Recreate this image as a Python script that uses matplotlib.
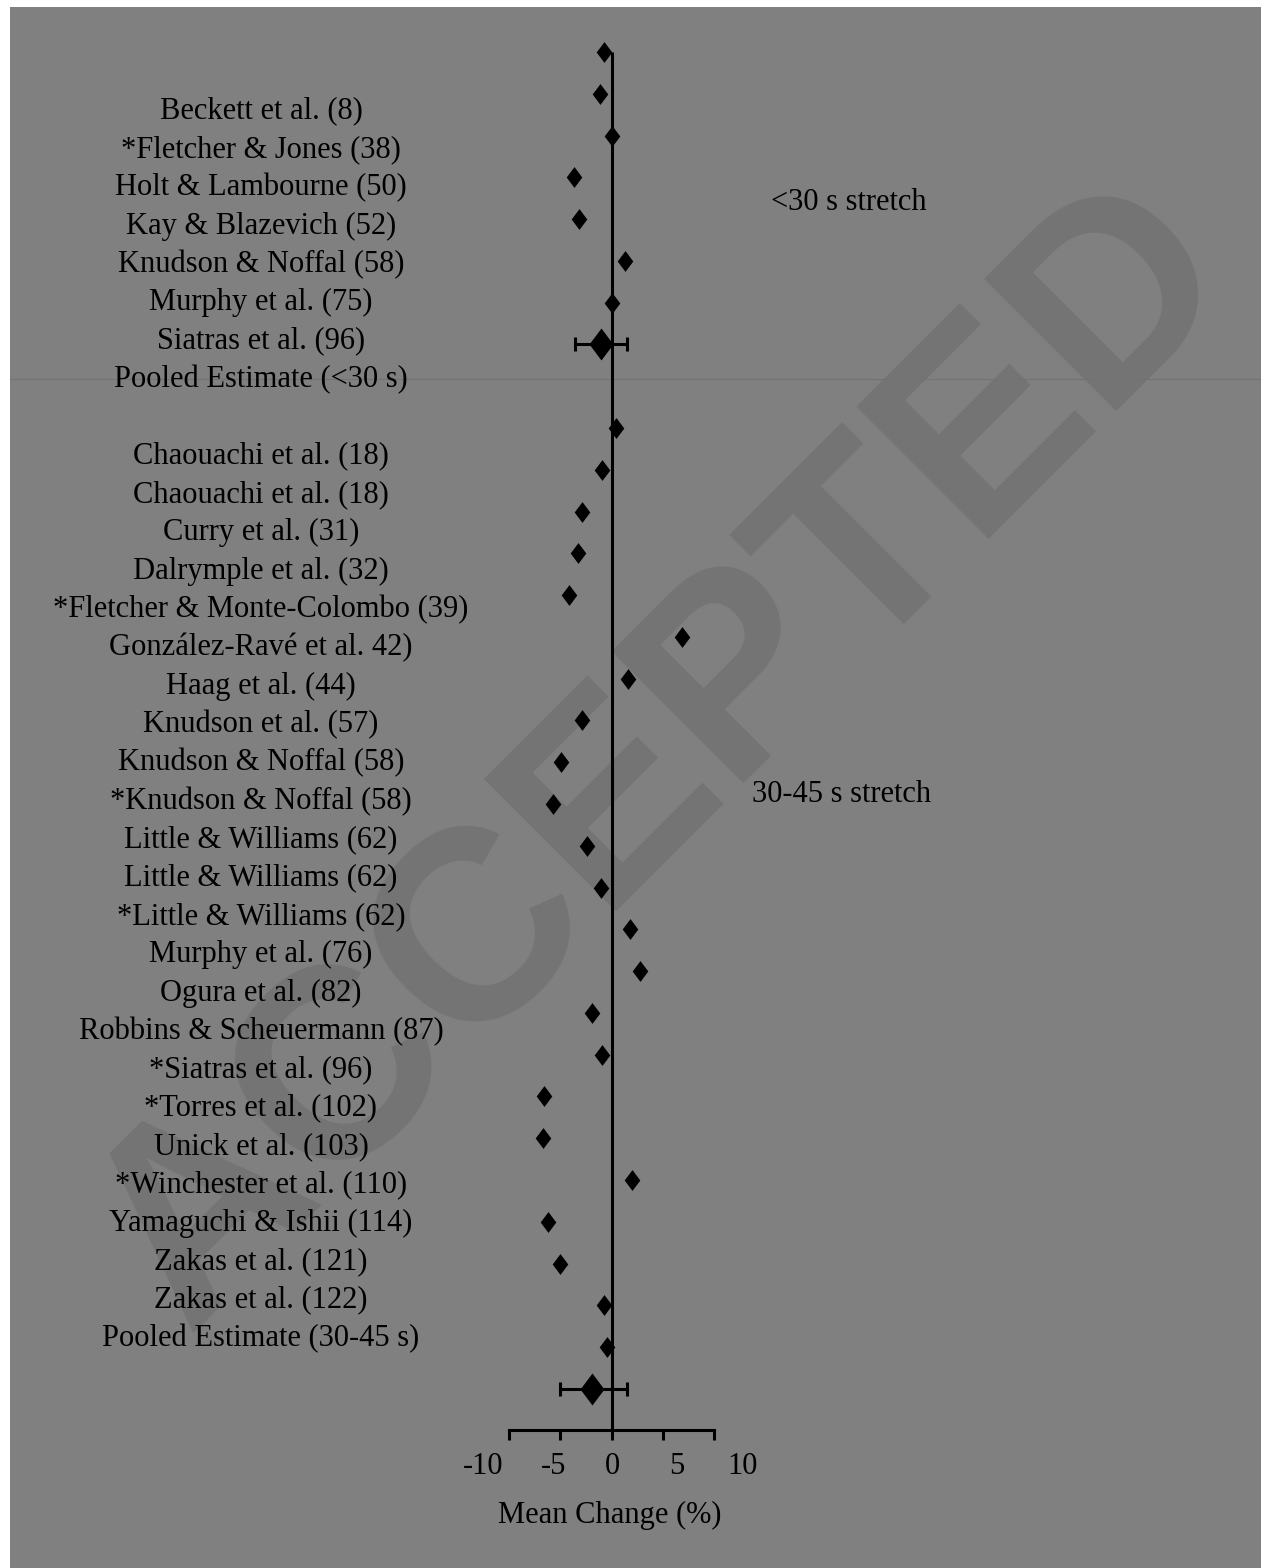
import matplotlib
matplotlib.use("Agg")
import matplotlib.pyplot as plt
import matplotlib.transforms as mtransforms
from matplotlib.patches import Rectangle
from matplotlib.lines import Line2D

# ---------------- data ----------------
labels_lt30 = ["Beckett et al. (8)", "*Fletcher & Jones (38)", "Holt & Lambourne (50)",
               "Kay & Blazevich (52)", "Knudson & Noffal (58)", "Murphy et al. (75)",
               "Siatras et al. (96)"]
values_lt30 = [-0.75, -1.14, 0.06, -3.65, -3.22, 1.30, 0.06]
pooled_lt30_label = "Pooled Estimate (<30 s)"
pooled_lt30 = -1.04
pooled_lt30_ci = [-3.58, 1.52]

labels_30_45 = ["Chaouachi et al. (18)", "Chaouachi et al. (18)", "Curry et al. (31)",
                "Dalrymple et al. (32)", "*Fletcher & Monte-Colombo (39)",
                "González-Ravé et al. 42)", "Haag et al. (44)", "Knudson et al. (57)",
                "Knudson & Noffal (58)", "*Knudson & Noffal (58)", "Little & Williams (62)",
                "Little & Williams (62)", "*Little & Williams (62)", "Murphy et al. (76)",
                "Ogura et al. (82)", "Robbins & Scheuermann (87)", "*Siatras et al. (96)",
                "*Torres et al. (102)", "Unick et al. (103)", "*Winchester et al. (110)",
                "Yamaguchi & Ishii (114)", "Zakas et al. (121)", "Zakas et al. (122)"]
values_30_45 = [0.39, -0.97, -2.92, -3.25, -4.13, 6.88, 1.56, -2.92, -4.94, -5.75, -2.44,
                -1.04, 1.78, 2.76, -1.95, -0.97, -6.57, -6.67, 2.01, -6.24, -5.04, -0.75, -0.43]
pooled_30_45_label = "Pooled Estimate (30-45 s)"
pooled_30_45 = -1.89
pooled_30_45_ci = [-5.04, 1.52]

xticks = [-10, -5, 0, 5, 10]
xtick_labels = ["-10", "-5", "0", "5", "10"]
group_labels = ["<30 s stretch", "30-45 s stretch"]
xlabel = "Mean Change (%)"
watermark = "ACCEPTED"

# ---------------- layout ----------------
W, H, DPI = 1261, 1568, 100
fig = plt.figure(figsize=(W / DPI, H / DPI), dpi=DPI, facecolor="white")

def fx(px):
    return px / W

def fy(py):
    return 1 - py / H

BG = "#808080"
WM = "#747474"
serif = ["Liberation Serif", "DejaVu Serif"]
FS = 22

fig.patches.append(Rectangle((fx(10), 0), 1 - fx(10), fy(7), transform=fig.transFigure,
                             facecolor=BG, edgecolor="none", zorder=0))

# watermark
fig.text(fx(664), fy(757), watermark, rotation=45, rotation_mode="anchor",
         ha="center", va="center", fontsize=195, fontweight="bold",
         family=["Liberation Sans", "DejaVu Sans"], color=WM, zorder=0.5)

# faint horizontal line
fig.add_artist(Line2D([fx(10), 1], [fy(379), fy(379)], transform=fig.transFigure,
                      color="#737373", lw=0.8, zorder=0.6))

# row positions
n1 = len(labels_lt30)
rows_lt30 = list(range(n1))
row_pool1 = n1
start2 = n1 + 2
rows_30_45 = list(range(start2, start2 + len(labels_30_45)))
row_pool2 = start2 + len(labels_30_45)

# main axes (markers)
ROW0, STEP = 52.0, 41.78
ax_l, ax_r, ax_t, ax_b = 509.0, 714.3, 40.0, 1430.0
ax = fig.add_axes([fx(ax_l), fy(ax_b), fx(ax_r) - fx(ax_l), fy(ax_t) - fy(ax_b)], zorder=1)
ax.set_facecolor("none")
r_top = (ax_t - ROW0) / STEP
r_bot = (ax_b - ROW0) / STEP
ax.set_ylim(r_bot, r_top)
ax.set_xlim(-10, 10)

diamond = [(0, 1), (0.75, 0), (0, -1), (-0.75, 0), (0, 1)]

ax.vlines(0, 0, r_bot, color="black", lw=2.2, zorder=2)

ax.plot(values_lt30, rows_lt30, linestyle="none", marker=diamond, markersize=15,
        color="black", markeredgewidth=0, zorder=3)
ax.plot(values_30_45, rows_30_45, linestyle="none", marker=diamond, markersize=15,
        color="black", markeredgewidth=0, zorder=3)

for val, ci, row in [(pooled_lt30, pooled_lt30_ci, row_pool1),
                     (pooled_30_45, pooled_30_45_ci, row_pool2)]:
    ax.errorbar([val], [row], xerr=[[val - ci[0]], [ci[1] - val]], fmt="none",
                ecolor="black", elinewidth=2.2, capsize=4.7, capthick=2.2, zorder=3)
    ax.plot([val], [row], linestyle="none", marker=diamond, markersize=23,
            color="black", markeredgewidth=0, zorder=4)

for s in ["left", "right", "top"]:
    ax.spines[s].set_visible(False)
ax.spines["bottom"].set_linewidth(2.2)
ax.set_yticks([])
ax.set_xticks(xticks)
ax.set_xticklabels([""] * len(xticks))
ax.tick_params(axis="x", direction="out", length=7, width=2.2, color="black")

label_offsets_px = [-26, -7, 1, 14, 28]
for t, lab, off in zip(xticks, xtick_labels, label_offsets_px):
    ax.annotate(lab, xy=(t, 0), xycoords=("data", "axes fraction"),
                xytext=(off * 0.72, -36 * 0.72), textcoords="offset points",
                ha="center", va="center", fontsize=FS, family=serif, color="black",
                annotation_clip=False)

fig.text(fx(610), fy(1515), xlabel, ha="center", va="center", fontsize=FS,
         family=serif, color="black")

# group labels
fig.text(fx(849), fy(203), group_labels[0], ha="center", va="center", fontsize=FS,
         family=serif, color="black")
fig.text(fx(842), fy(795), group_labels[1], ha="center", va="center", fontsize=FS,
         family=serif, color="black")

# label axes
LROW0, LSTEP = 111.0, 38.35
l_t, l_b = 80.0, 1370.0
ax2 = fig.add_axes([0, fy(l_b), fx(522), fy(l_t) - fy(l_b)], zorder=1)
ax2.set_facecolor("none")
ax2.axis("off")
ax2.set_ylim((l_b - LROW0) / LSTEP, (l_t - LROW0) / LSTEP)
trans = mtransforms.blended_transform_factory(ax2.transAxes, ax2.transData)
all_labels = labels_lt30 + [pooled_lt30_label] + labels_30_45 + [pooled_30_45_label]
all_rows = rows_lt30 + [row_pool1] + rows_30_45 + [row_pool2]
for lab, r in zip(all_labels, all_rows):
    ax2.text(0.5, r, lab, transform=trans, ha="center", va="center", fontsize=FS,
             family=serif, color="black")

fig.savefig("out.png", dpi=DPI, facecolor="white")
